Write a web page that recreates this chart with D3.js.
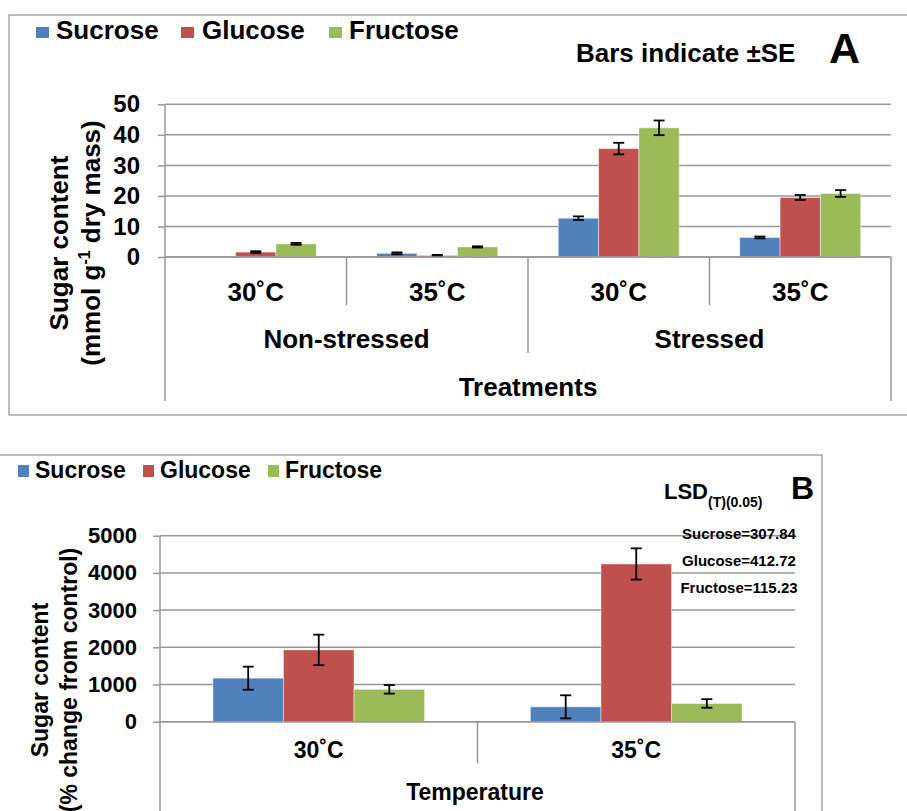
<!DOCTYPE html>
<html>
<head>
<meta charset="utf-8">
<script src="https://cdn.jsdelivr.net/npm/d3@7"></script>
<style>
  html, body { margin: 0; padding: 0; background: #fff; }
  svg { display: block; font-family: "Liberation Sans", Arial, sans-serif; font-weight: bold; }
</style>
</head>
<body>
<svg id="chart" width="907" height="811"></svg>
<script>
// ---- Shared series ----
const seriesNames = ["Sucrose", "Glucose", "Fructose"];
const seriesColors = ["#4F81BD", "#C0504D", "#9BBB59"];

// ---- Panel A: sugar content (mmol g-1 dry mass) ----
const groupsA = ["Non-stressed", "Stressed"];
const tempsA = ["30˚C", "35˚C"];
const sucroseA = [0, 1.2, 12.7, 6.4];
const glucoseA = [1.6, 0.5, 35.5, 19.5];
const fructoseA = [4.3, 3.3, 42.3, 20.8];
const sucroseSeA = [0, 0.3, 0.6, 0.3];
const glucoseSeA = [0.3, 0.2, 1.9, 0.8];
const fructoseSeA = [0.3, 0.2, 2.4, 1.1];
const ticksA = [0, 10, 20, 30, 40, 50];

// ---- Panel B: sugar content (% change from control) ----
const tempsB = ["30˚C", "35˚C"];
const sucroseB = [1170, 400];
const glucoseB = [1930, 4240];
const fructoseB = [870, 490];
const sucroseSeB = [310, 310];
const glucoseSeB = [410, 420];
const fructoseSeB = [115, 115];
const ticksB = [0, 1000, 2000, 3000, 4000, 5000];
const lsdLabels = ["Sucrose=307.84", "Glucose=412.72", "Fructose=115.23"];

const svg = d3.select("#chart");
const gridColor = "#979797";
const frameColor = "#a6a6a6";

// builds {category, series, value, se} rows for the bar layer
function rows(cats, values, errors) {
  const out = [];
  cats.forEach((c, i) => {
    seriesNames.forEach((s, k) => {
      out.push({ cat: c, series: s, color: seriesColors[k], value: values[k][i], se: errors[k][i] });
    });
  });
  return out;
}

function drawBars(g, data, x, y, capHalf) {
  // clustered bars with a gap of 1.5 bar widths between clusters
  const bw = x.bandwidth();
  const inner = d3.scaleBand().domain(seriesNames)
    .range([bw * 0.75 / 4.5, bw - bw * 0.75 / 4.5]);
  g.selectAll("rect.bar").data(data).join("rect")
    .attr("class", "bar")
    .attr("x", d => x(d.cat) + inner(d.series))
    .attr("width", inner.bandwidth())
    .attr("y", d => y(d.value))
    .attr("height", d => y(0) - y(d.value))
    .attr("fill", d => d.color)
    .attr("stroke", "rgba(255,255,255,0.45)")
    .attr("stroke-width", 1);

  const eb = g.selectAll("g.err").data(data.filter(d => d.se > 0)).join("g")
    .attr("class", "err")
    .attr("transform", d => `translate(${x(d.cat) + inner(d.series) + inner.bandwidth() / 2},0)`)
    .attr("stroke", "#000").attr("stroke-width", 1.8);
  eb.append("line").attr("x1", 0).attr("x2", 0)
    .attr("y1", d => y(d.value + d.se)).attr("y2", d => y(d.value - d.se));
  eb.append("line").attr("x1", -capHalf).attr("x2", capHalf)
    .attr("y1", d => y(d.value + d.se)).attr("y2", d => y(d.value + d.se));
  eb.append("line").attr("x1", -capHalf).attr("x2", capHalf)
    .attr("y1", d => y(d.value - d.se)).attr("y2", d => y(d.value - d.se));
}

function legend(g, items) {
  items.forEach(it => {
    g.append("rect").attr("x", it.sx).attr("y", it.sy).attr("width", it.sw).attr("height", it.sh)
      .attr("fill", it.color);
    g.append("text").attr("x", it.tx).attr("y", it.ty).attr("font-size", it.fs).text(it.label);
  });
}

// ================= Panel A =================
const gA = svg.append("g");
gA.append("rect").attr("x", 9).attr("y", 15).attr("width", 920).attr("height", 400)
  .attr("fill", "none").attr("stroke", frameColor).attr("stroke-width", 1.5);

const catsA = groupsA.flatMap(gr => tempsA.map(t => gr + " " + t));
const xA = d3.scaleBand().domain(catsA).range([165, 891]);
const yA = d3.scaleLinear().domain([0, 50]).range([257, 104.3]);

// horizontal gridlines
gA.append("g").selectAll("line").data(ticksA).join("line")
  .attr("x1", 165).attr("x2", 891)
  .attr("y1", d => yA(d)).attr("y2", d => yA(d))
  .attr("stroke", gridColor).attr("stroke-width", 1.5);

// value axis with outward ticks
const axA = gA.append("g").attr("transform", "translate(165,0)")
  .call(d3.axisLeft(yA).tickValues(ticksA).tickSize(7).tickPadding(18));
axA.select(".domain").remove();
axA.selectAll(".tick line").attr("stroke", gridColor).attr("stroke-width", 1.5);
axA.selectAll(".tick text").attr("font-size", 24).attr("font-family", "Liberation Sans, Arial, sans-serif")
  .attr("font-weight", "bold").attr("fill", "#000");

// multi-level category axis frame
const frameA = gA.append("g").attr("stroke", gridColor).attr("stroke-width", 1.5);
frameA.append("line").attr("x1", 165).attr("x2", 165).attr("y1", 104.3).attr("y2", 401);
frameA.append("line").attr("x1", 891).attr("x2", 891).attr("y1", yA(0)).attr("y2", 401);
catsA.slice(1).forEach((c, i) => {
  const isGroupEdge = (i + 1) % tempsA.length === 0;
  frameA.append("line").attr("x1", xA(c)).attr("x2", xA(c))
    .attr("y1", yA(0)).attr("y2", isGroupEdge ? 353 : 305);
});

drawBars(gA, rows(catsA, [sucroseA, glucoseA, fructoseA], [sucroseSeA, glucoseSeA, fructoseSeA]), xA, yA, 5.5);

gA.append("line").attr("x1", 165).attr("x2", 891).attr("y1", yA(0)).attr("y2", yA(0))
  .attr("stroke", gridColor).attr("stroke-width", 1.5);

// category labels
gA.append("g").selectAll("text").data(catsA).join("text")
  .attr("x", d => xA(d) + xA.bandwidth() / 2).attr("y", 301)
  .attr("text-anchor", "middle").attr("font-size", 26)
  .text((d, i) => tempsA[i % tempsA.length]);
gA.append("g").selectAll("text").data(groupsA).join("text")
  .attr("x", (d, i) => (xA(catsA[i * tempsA.length]) + xA(catsA[i * tempsA.length + tempsA.length - 1]) + xA.bandwidth()) / 2)
  .attr("y", 348).attr("text-anchor", "middle").attr("font-size", 26).text(d => d);
gA.append("text").attr("x", 528).attr("y", 396).attr("text-anchor", "middle").attr("font-size", 26).text("Treatments");

// value axis title
const ytA = gA.append("g").attr("transform", "translate(0,243) rotate(-90)").attr("text-anchor", "middle").attr("font-size", 26);
ytA.append("text").attr("x", 0).attr("y", 68).text("Sugar content");
const ytA2 = ytA.append("text").attr("x", 0).attr("y", 100);
ytA2.append("tspan").text("(mmol g");
ytA2.append("tspan").attr("font-size", 16).attr("dy", -10).text("-1");
ytA2.append("tspan").attr("dy", 10).text(" dry mass)");

legend(gA, [
  { sx: 36, sy: 27, sw: 13, sh: 11, color: seriesColors[0], tx: 56, ty: 38.5, fs: 26, label: seriesNames[0] },
  { sx: 181, sy: 27, sw: 13, sh: 11, color: seriesColors[1], tx: 202, ty: 38.5, fs: 26, label: seriesNames[1] },
  { sx: 329, sy: 27, sw: 13, sh: 11, color: seriesColors[2], tx: 349, ty: 38.5, fs: 26, label: seriesNames[2] }
]);
gA.append("text").attr("x", 576).attr("y", 62).attr("font-size", 26).text("Bars indicate ±SE");
gA.append("text").attr("x", 829).attr("y", 63).attr("font-size", 43).text("A");

// ================= Panel B =================
const gB = svg.append("g");
gB.append("rect").attr("x", -5).attr("y", 455).attr("width", 827).attr("height", 400)
  .attr("fill", "none").attr("stroke", frameColor).attr("stroke-width", 1.5);

const xB = d3.scaleBand().domain(tempsB).range([160, 795]);
const yB = d3.scaleLinear().domain([0, 5000]).range([721.7, 535.7]);

gB.append("g").selectAll("line").data(ticksB).join("line")
  .attr("x1", 160).attr("x2", 795)
  .attr("y1", d => yB(d)).attr("y2", d => yB(d))
  .attr("stroke", gridColor).attr("stroke-width", 1.5);

const axB = gB.append("g").attr("transform", "translate(160,0)")
  .call(d3.axisLeft(yB).tickValues(ticksB).tickSize(7).tickPadding(16).tickFormat(d3.format("d")));
axB.select(".domain").remove();
axB.selectAll(".tick line").attr("stroke", gridColor).attr("stroke-width", 1.5);
axB.selectAll(".tick text").attr("font-size", 22).attr("font-family", "Liberation Sans, Arial, sans-serif")
  .attr("font-weight", "bold").attr("fill", "#000");

const frameB = gB.append("g").attr("stroke", gridColor).attr("stroke-width", 1.5);
frameB.append("line").attr("x1", 160).attr("x2", 160).attr("y1", 535.7).attr("y2", 811);
frameB.append("line").attr("x1", 795).attr("x2", 795).attr("y1", yB(0)).attr("y2", 811);
tempsB.slice(1).forEach(c => {
  frameB.append("line").attr("x1", xB(c)).attr("x2", xB(c)).attr("y1", yB(0)).attr("y2", 763);
});

drawBars(gB, rows(tempsB, [sucroseB, glucoseB, fructoseB], [sucroseSeB, glucoseSeB, fructoseSeB]), xB, yB, 5.5);

gB.append("line").attr("x1", 160).attr("x2", 795).attr("y1", yB(0)).attr("y2", yB(0))
  .attr("stroke", gridColor).attr("stroke-width", 1.5);

gB.append("g").selectAll("text").data(tempsB).join("text")
  .attr("x", d => xB(d) + xB.bandwidth() / 2).attr("y", 758)
  .attr("text-anchor", "middle").attr("font-size", 23).text(d => d);
gB.append("text").attr("x", 475).attr("y", 800).attr("text-anchor", "middle").attr("font-size", 23).text("Temperature");

const ytB = gB.append("g").attr("transform", "translate(0,680) rotate(-90)").attr("text-anchor", "middle").attr("font-size", 23);
ytB.append("text").attr("x", 0).attr("y", 48).text("Sugar content");
ytB.append("text").attr("x", 0).attr("y", 77).text("(% change from control)");

legend(gB, [
  { sx: 18, sy: 465, sw: 11, sh: 12, color: seriesColors[0], tx: 35, ty: 477.5, fs: 23, label: seriesNames[0] },
  { sx: 143, sy: 465, sw: 11, sh: 12, color: seriesColors[1], tx: 160, ty: 477.5, fs: 23, label: seriesNames[1] },
  { sx: 268, sy: 465, sw: 11, sh: 12, color: seriesColors[2], tx: 285, ty: 477.5, fs: 23, label: seriesNames[2] }
]);

const lsd = gB.append("text").attr("x", 664).attr("y", 499).attr("font-size", 22);
lsd.append("tspan").text("LSD");
lsd.append("tspan").attr("font-size", 14).attr("dy", 8).text("(T)(0.05)");
gB.append("text").attr("x", 791).attr("y", 499).attr("font-size", 32).text("B");

gB.append("g").selectAll("text").data(lsdLabels).join("text")
  .attr("x", 739).attr("y", (d, i) => 539 + i * 27)
  .attr("text-anchor", "middle").attr("font-size", 15).text(d => d);
</script>
</body>
</html>
